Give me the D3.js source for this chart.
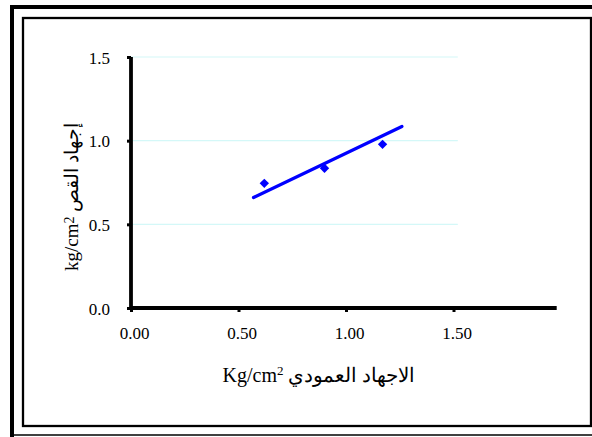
<!DOCTYPE html>
<html>
<head>
<meta charset="utf-8">
<script src="https://cdn.jsdelivr.net/npm/d3@7"></script>
<style>
  html, body { margin: 0; padding: 0; background: #fff; }
  svg { display: block; }
  text { font-family: "Times New Roman", "Liberation Serif", "DejaVu Serif", serif; fill: #000; }
</style>
</head>
<body>
<svg id="chart" width="592" height="437"></svg>
<script>
// Normal stress (x) vs. shear stress (y), kg/cm²
const normalStress = [0.62, 0.90, 1.17];
const shearStress  = [0.745, 0.835, 0.978];

// Fitted line end points
const fitX = [0.57, 1.26];
const fitY = [0.66, 1.085];

const xTicks = [0, 0.5, 1.0, 1.5];
const yTicks = [0, 0.5, 1.0, 1.5];
const gridValues = [0.5, 1.0, 1.5];

const svg = d3.select("#chart");

// Double frame
svg.append("path")
  .attr("d", "M12,437 L12,7 L592,7")
  .attr("fill", "none").attr("stroke", "#000").attr("stroke-width", 4);
svg.append("line")
  .attr("x1", 12).attr("x2", 592).attr("y1", 435).attr("y2", 435)
  .attr("stroke", "#000").attr("stroke-width", 1.5);
svg.append("rect")
  .attr("x", 23).attr("y", 18).attr("width", 568).attr("height", 408)
  .attr("fill", "none").attr("stroke", "#000").attr("stroke-width", 2.3);

const x = d3.scaleLinear().domain([0, 1.98]).range([131, 556.7]);
const y = d3.scaleLinear().domain([0, 1.5]).range([308, 57]);

// Horizontal gridlines
svg.append("g").selectAll("line").data(gridValues).join("line")
  .attr("x1", x(0)).attr("x2", x(1.52))
  .attr("y1", d => y(d)).attr("y2", d => y(d))
  .attr("stroke", "#d4f8f8").attr("stroke-width", 1.2);

// Axes
const xAxis = svg.append("g").attr("transform", `translate(0,${y(0)})`)
  .call(d3.axisBottom(x).tickValues(xTicks).tickSize(4).tickPadding(15)
    .tickFormat(d3.format(".2f")));
const yAxis = svg.append("g").attr("transform", `translate(${x(0)},0)`)
  .call(d3.axisLeft(y).tickValues(yTicks).tickSize(4).tickPadding(17)
    .tickFormat(d3.format(".1f")));

[xAxis, yAxis].forEach(g => {
  g.select(".domain").attr("stroke", "#000").attr("stroke-width", 3.8)
    .attr("d", g === xAxis ? `M${x(0)},0H${x(1.98)}` : `M0,${y(1.5)}V${y(0)}`);
  g.selectAll(".tick line").attr("stroke", "#000").attr("stroke-width", 3);
  g.selectAll(".tick text").attr("font-size", 17)
    .style("font-family", '"Times New Roman", "Liberation Serif", serif');
});
xAxis.selectAll(".tick text").attr("dx", 3);
yAxis.selectAll(".tick text").attr("dy", "0.36em");

// Fitted line
svg.append("line")
  .attr("x1", x(fitX[0])).attr("y1", y(fitY[0]))
  .attr("x2", x(fitX[1])).attr("y2", y(fitY[1]))
  .attr("stroke", "#0000ff").attr("stroke-width", 3.3).attr("stroke-linecap", "round");

// Measured points (diamonds)
svg.append("g").selectAll("path").data(normalStress).join("path")
  .attr("d", d3.symbol(d3.symbolSquare, 44))
  .attr("transform", (d, i) => `translate(${x(d)},${y(shearStress[i])}) rotate(45)`)
  .attr("fill", "#0000ff");

// Axis titles
const xt = svg.append("text")
  .attr("x", 319).attr("y", 382).attr("text-anchor", "middle")
  .attr("font-size", 20);
xt.append("tspan").text("Kg/cm");
xt.append("tspan").attr("font-size", 13).attr("dy", -7).text("2");
xt.append("tspan").attr("dy", 7).text(" الاجهاد العمودي");

const yt = svg.append("text")
  .attr("transform", "translate(78,197) rotate(-90)")
  .attr("text-anchor", "middle").attr("font-size", 19);
yt.append("tspan").text("kg/cm");
yt.append("tspan").attr("font-size", 14).attr("dy", -4).text("2");
yt.append("tspan").attr("dy", 4).text(" إجهاد القص");
</script>
</body>
</html>
